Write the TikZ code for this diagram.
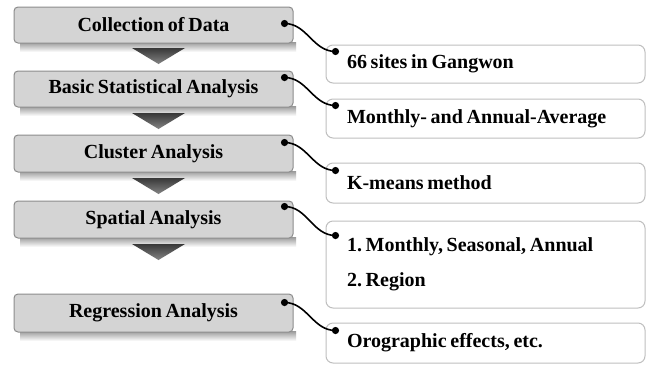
\documentclass[tikz,border=0pt]{standalone}
\usepackage{fontspec}
\setmainfont[WordSpace=0.75]{Liberation Serif}
\newcommand{\boxfont}{\fontsize{20}{22}\selectfont\bfseries\frenchspacing}
\newcommand{\listfont}{\fontsize{20}{35}\selectfont\bfseries\frenchspacing}
\begin{document}
\begin{tikzpicture}[x=1pt,y=-1pt,
  stepbox/.style={draw=black!45, line width=1pt, fill=black!17, rounded corners=4pt,
    minimum width=279pt, inner sep=0pt, font=\boxfont},
  infobox/.style={draw=black!25, line width=1pt, fill=white, rounded corners=7pt,
    minimum width=319pt, text width=277pt, inner xsep=21pt, inner ysep=0pt, align=flush left,
    font=\boxfont},
  shadowbar/.style={top color=black!40, bottom color=white},
  arrowtri/.style={top color=black!78, bottom color=black!48},
  conn/.style={line width=1.6pt, black},
  dotmark/.style={fill=black}
]
\useasboundingbox (0,0) rectangle (651,365);
\fill[white] (0,0) rectangle (651,365);

% shadows under the step boxes
\shade[shadowbar] (20,42) rectangle (296,52);
\shade[shadowbar] (20,106) rectangle (296,116);
\shade[shadowbar] (20,171) rectangle (296,181);
\shade[shadowbar] (20,237) rectangle (296,247);
\shade[shadowbar] (20,331) rectangle (296,341);

% step boxes
\node[stepbox, minimum height=36pt] (b1) at (153.5,25) {Collection of Data};
\node[stepbox, minimum height=36pt] (b2) at (153.5,89) {Basic Statistical Analysis};
\node[stepbox, minimum height=37pt] (b3) at (153.5,153.5) {Cluster Analysis};
\node[stepbox, minimum height=37pt] (b4) at (153.5,219.5) {Spatial Analysis};
\node[stepbox, minimum height=38pt] (b5) at (153.5,313) {Regression Analysis};

% down triangles
\shade[arrowtri] (132,48) -- (185,48) -- (158.5,64) -- cycle;
\shade[arrowtri] (132,113) -- (185,113) -- (158.5,129) -- cycle;
\shade[arrowtri] (132,178) -- (185,178) -- (158.5,194) -- cycle;
\shade[arrowtri] (132,244) -- (185,244) -- (158.5,260) -- cycle;

% info boxes
\node[infobox, minimum height=38pt] (r1) at (485.5,64) {66 sites in Gangwon};
\node[infobox, minimum height=39pt] (r2) at (485.5,118.5) {Monthly- and Annual-Average};
\node[infobox, minimum height=40pt] (r3) at (485.5,183) {K-means method};
\node[infobox, minimum height=87pt, font=\listfont] (r4) at (485.5,264.5) {1. Monthly, Seasonal, Annual\\2. Region};
\node[infobox, minimum height=40pt] (r5) at (485.5,343) {Orographic effects, etc.};

% connector end points
\coordinate (s1) at ([xshift=-9pt,yshift=-17pt]b1.north east);
\coordinate (s2) at ([xshift=-9pt,yshift=-7pt]b2.north east);
\coordinate (s3) at ([xshift=-9pt,yshift=-8pt]b3.north east);
\coordinate (s4) at ([xshift=-9pt,yshift=-6pt]b4.north east);
\coordinate (s5) at ([xshift=-9pt,yshift=-9pt]b5.north east);
\coordinate (t1) at ([xshift=10pt,yshift=-7pt]r1.north west);
\coordinate (t2) at ([xshift=10pt,yshift=-7pt]r2.north west);
\coordinate (t3) at ([xshift=10pt,yshift=-8pt]r3.north west);
\coordinate (t4) at ([xshift=10pt,yshift=-15pt]r4.north west);
\coordinate (t5) at ([xshift=10pt,yshift=-8pt]r5.north west);

\foreach \i in {1,...,5}{
  \draw[conn] (s\i) to[out=0,in=180] (t\i);
  \fill[dotmark] (s\i) circle (3.6pt);
  \fill[dotmark] (t\i) circle (3.6pt);
}
\end{tikzpicture}
\end{document}
